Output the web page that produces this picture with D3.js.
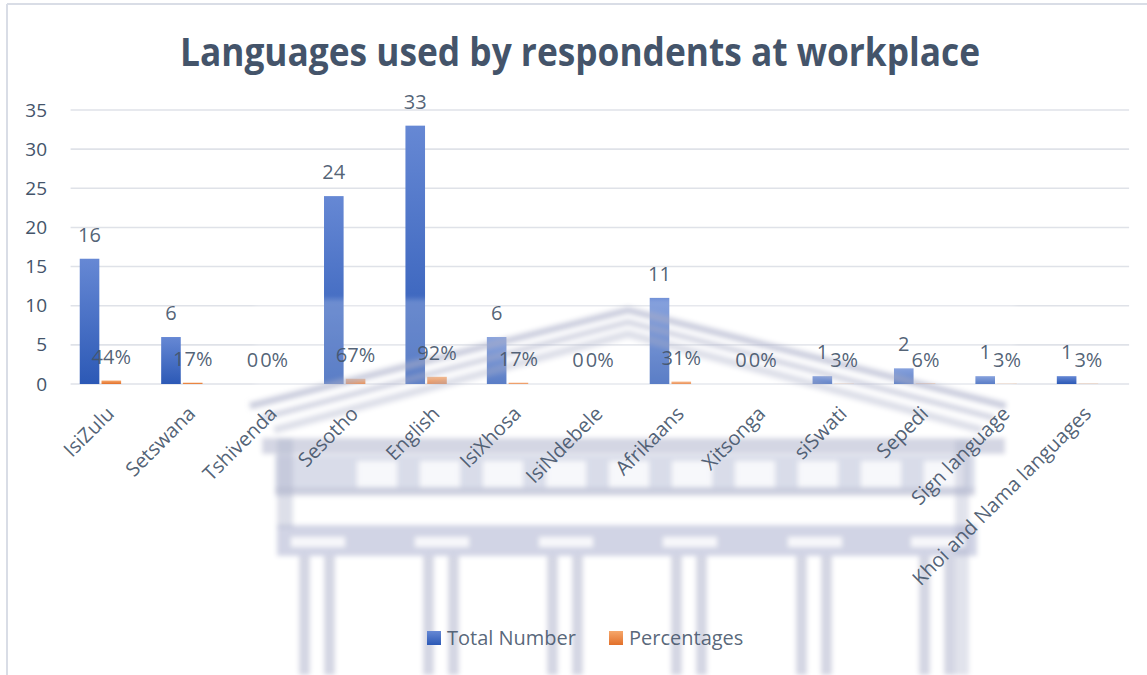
<!DOCTYPE html>
<html>
<head>
<meta charset="utf-8">
<script src="https://cdn.jsdelivr.net/npm/d3@7"></script>
<style>
  body { margin: 0; background: #fff; }
  svg { display: block; }
  text { font-family: "Open Sans", Lato, sans-serif; }
</style>
</head>
<body>
<svg id="chart" width="1147" height="675"></svg>
<script>
// ---- data ----
const categories = ["IsiZulu", "Setswana", "Tshivenda", "Sesotho", "English", "IsiXhosa",
  "IsiNdebele", "Afrikaans", "Xitsonga", "siSwati", "Sepedi", "Sign language",
  "Khoi and Nama languages"];
const totalNumber = [16, 6, 0, 24, 33, 6, 0, 11, 0, 1, 2, 1, 1];
const percentages = [0.44, 0.17, 0, 0.67, 0.92, 0.17, 0, 0.31, 0, 0.03, 0.06, 0.03, 0.03];
const yTicks = [0, 5, 10, 15, 20, 25, 30, 35];
const seriesNames = ["Total Number", "Percentages"];
const chartTitle = "Languages used by respondents at workplace";

// ---- layout ----
const W = 1147, H = 675;
const plot = { left: 70.6, right: 1129.1, top: 110, bottom: 384 };
const textColor = "#44546a";
const fontStack = "'Open Sans', Lato, sans-serif";

const svg = d3.select("#chart");
const defs = svg.append("defs");

function vGradient(id, top, bottom) {
  const g = defs.append("linearGradient").attr("id", id)
    .attr("x1", 0).attr("y1", 0).attr("x2", 0).attr("y2", 1);
  g.append("stop").attr("offset", "0%").attr("stop-color", top);
  g.append("stop").attr("offset", "100%").attr("stop-color", bottom);
}
vGradient("gradBlue", "#6688d4", "#2c59b6");
vGradient("gradOrange", "#f6a76b", "#e2702a");
const fills = ["url(#gradBlue)", "url(#gradOrange)"];

defs.append("filter").attr("id", "soft")
  .attr("x", "-5%").attr("y", "-5%").attr("width", "110%").attr("height", "110%")
  .append("feGaussianBlur").attr("stdDeviation", 2.4);

// drawing layers
const layerGrid = svg.append("g");
const layerBars = svg.append("g");
const layerCrest = svg.append("g").attr("filter", "url(#soft)").attr("pointer-events", "none");
const layerText = svg.append("g");

// chart frame
layerGrid.append("line").attr("x1", 7).attr("y1", 4).attr("x2", W).attr("y2", 4)
  .attr("stroke", "#d9dde6").attr("stroke-width", 2);
layerGrid.append("line").attr("x1", 7).attr("y1", 4).attr("x2", 7).attr("y2", H)
  .attr("stroke", "#d9dde6").attr("stroke-width", 2);

// title
layerText.append("text")
  .attr("x", 580).attr("y", 66)
  .attr("text-anchor", "middle")
  .attr("font-family", "Lato, 'Open Sans', sans-serif")
  .attr("font-size", 40).attr("font-weight", 700)
  .attr("fill", textColor)
  .attr("textLength", 800).attr("lengthAdjust", "spacingAndGlyphs")
  .text(chartTitle);

// scales
const x = d3.scaleBand().domain(categories).range([plot.left, plot.right]);
// each category holds three slots; the two series use the first two
const slot = d3.scaleBand().domain(d3.range(3)).range([0, x.bandwidth()])
  .paddingInner(0.1).paddingOuter(0.42);
const y = d3.scaleLinear().domain([0, 35]).range([plot.bottom, plot.top]);

// gridlines
layerGrid.append("g").selectAll("line").data(yTicks).join("line")
  .attr("x1", plot.left).attr("x2", plot.right)
  .attr("y1", d => y(d)).attr("y2", d => y(d))
  .attr("stroke", "#dfe2e8").attr("stroke-width", 1.6);

// y axis labels
const yAxis = d3.axisLeft(y).tickValues(yTicks).tickSize(0).tickPadding(0);
const gy = layerText.append("g").attr("transform", "translate(47,0)").call(yAxis);
gy.select(".domain").remove();
gy.selectAll("text").attr("font-size", 19).attr("fill", textColor)
  .attr("font-family", fontStack);

// bars
const rows = categories.map((c, i) => ({ cat: c, vals: [totalNumber[i], percentages[i]] }));
const fmtPct = d3.format(".0%");
const labelFmt = [d => String(d), d => fmtPct(d)];

layerBars.selectAll("g").data(rows).join("g")
  .attr("transform", d => `translate(${x(d.cat)},0)`)
  .selectAll("rect").data(d => d.vals.map((v, k) => ({ v, k }))).join("rect")
  .attr("x", d => slot(d.k))
  .attr("width", slot.bandwidth())
  .attr("y", d => y(d.v))
  .attr("height", d => plot.bottom - y(d.v))
  .attr("fill", d => fills[d.k]);

// data labels
layerText.append("g").selectAll("g").data(rows).join("g")
  .attr("transform", d => `translate(${x(d.cat)},0)`)
  .selectAll("text").data(d => d.vals.map((v, k) => ({ v, k }))).join("text")
  .attr("x", d => slot(d.k) + slot.bandwidth() / 2)
  .attr("y", d => y(d.v) - 24)
  .attr("dy", "0.35em")
  .attr("text-anchor", "middle")
  .attr("font-size", 20)
  .attr("fill", textColor)
  .attr("fill-opacity", 0.92)
  .text(d => labelFmt[d.k](d.v));

// category labels
const xAxis = d3.axisBottom(x).tickSize(0).tickPadding(0);
const gx = layerText.append("g").attr("transform", `translate(0,${plot.bottom})`).call(xAxis);
gx.select(".domain").remove();
gx.selectAll(".tick text")
  .attr("font-size", 20).attr("fill", textColor)
  .attr("fill-opacity", 0.92)
  .attr("font-family", fontStack)
  .attr("text-anchor", "end")
  .attr("dy", 0).attr("y", 0)
  .attr("transform", "translate(4,31) rotate(-45)");

// legend
const legend = layerText.append("g").attr("transform", "translate(427,631)");
const legendX = [0, 182];
seriesNames.forEach((name, k) => {
  const item = legend.append("g").attr("transform", `translate(${legendX[k]},0)`);
  item.append("rect").attr("width", 14).attr("height", 14).attr("fill", fills[k]);
  item.append("text").attr("x", 20).attr("y", 7).attr("dy", "0.35em")
    .attr("font-size", 20).attr("fill", textColor).attr("fill-opacity", 0.9).text(name);
});

// faded building crest behind the labels
const crest = layerCrest;
const wash = "#ffffff", stone = "#a9aec8", light = "#c9cde0";

crest.append("rect").attr("x", 255).attr("y", 299).attr("width", 760).attr("height", 376)
  .attr("fill", wash).attr("opacity", 0.22);

// pediment slopes
[[0, 7, 0.6], [12, 6, 0.5], [24, 8, 0.4]].forEach(([off, w, o]) => {
  crest.append("path")
    .attr("d", `M${250 + off},${406 + off} L${628},${310 + off} L${1006 - off},${406 + off}`)
    .attr("fill", "none").attr("stroke", stone).attr("stroke-width", w).attr("opacity", o);
});
// tympanum base / cornice
crest.append("rect").attr("x", 262).attr("y", 438).attr("width", 743).attr("height", 16)
  .attr("fill", stone).attr("opacity", 0.5);
// frieze with metopes
crest.append("rect").attr("x", 275).attr("y", 455).attr("width", 700).attr("height", 36)
  .attr("fill", light).attr("opacity", 0.7);
d3.range(357, 960, 63).forEach(mx => {
  crest.append("rect").attr("x", mx).attr("y", 461).attr("width", 40).attr("height", 26)
    .attr("fill", "#ffffff").attr("opacity", 0.8);
});
crest.append("rect").attr("x", 275).attr("y", 488).attr("width", 700).attr("height", 8)
  .attr("fill", stone).attr("opacity", 0.5);
// architrave frame
crest.append("rect").attr("x", 285).attr("y", 497).attr("width", 680).attr("height", 28)
  .attr("fill", "#ffffff").attr("opacity", 0.5);
crest.append("rect").attr("x", 277).attr("y", 525).attr("width", 700).attr("height", 31)
  .attr("fill", light).attr("opacity", 0.85);
// side piers
crest.append("rect").attr("x", 277).attr("y", 438).attr("width", 16).attr("height", 90)
  .attr("fill", stone).attr("opacity", 0.4);
crest.append("rect").attr("x", 955).attr("y", 440).attr("width", 14).attr("height", 235)
  .attr("fill", stone).attr("opacity", 0.35);
// columns with capitals
[318, 442, 566, 690, 815, 938].forEach(cx => {
  crest.append("rect").attr("x", cx - 27).attr("y", 537).attr("width", 54).attr("height", 10)
    .attr("fill", "#ffffff").attr("opacity", 0.85);
  [-13, 12].forEach(dx => {
    crest.append("rect").attr("x", cx + dx - 6).attr("y", 556).attr("width", 11).attr("height", 119)
      .attr("fill", stone).attr("opacity", 0.5);
  });
});
</script>
</body>
</html>
